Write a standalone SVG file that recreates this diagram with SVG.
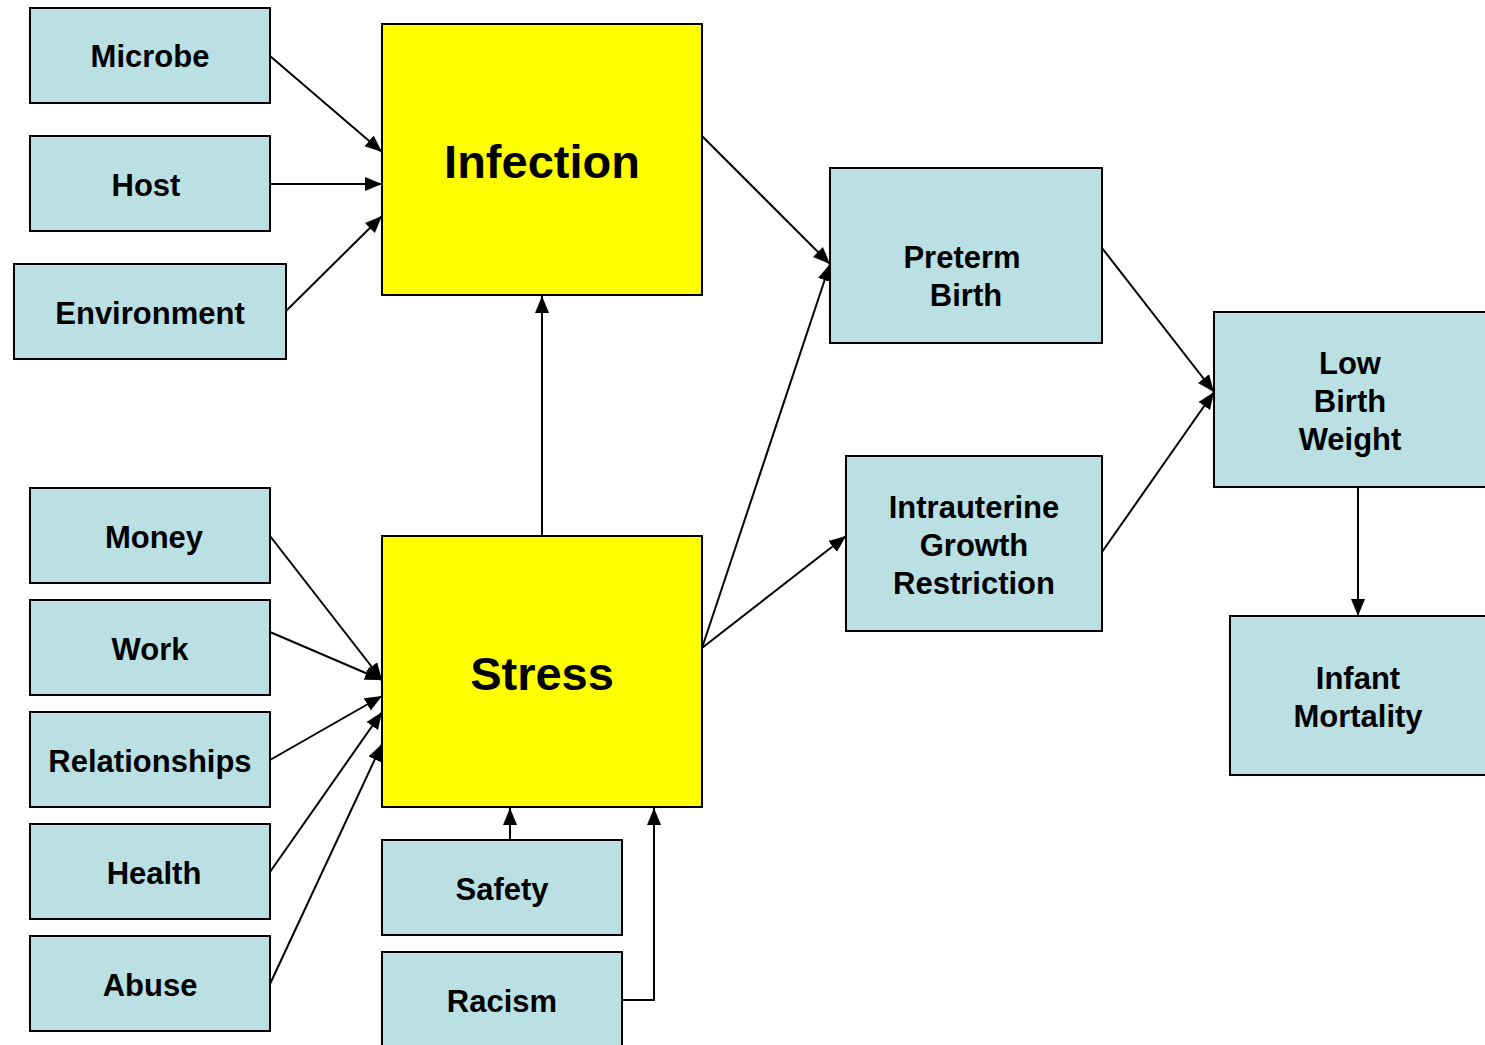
<svg xmlns="http://www.w3.org/2000/svg" width="1485" height="1045" viewBox="0 0 1485 1045">
<style>
.b{fill:#BBE0E3;stroke:#000;stroke-width:2}
.y{fill:#FFFF00;stroke:#000;stroke-width:2}
.t{font-family:"Liberation Sans",Arial,sans-serif;font-weight:bold;font-size:31px;text-anchor:middle;fill:#000}
.T{font-family:"Liberation Sans",Arial,sans-serif;font-weight:bold;font-size:47px;text-anchor:middle;fill:#000}
.c{fill:none;stroke:#000;stroke-width:2;marker-end:url(#a)}
</style>
<defs>
<marker id="a" markerUnits="userSpaceOnUse" markerWidth="18" markerHeight="16" refX="17" refY="8" orient="auto">
<path d="M0,1 L17,8 L0,15 Z" fill="#000"/>
</marker>
</defs>
<rect width="1485" height="1045" fill="#fff"/>
<g id="connectors">
<line class="c" x1="270" y1="56" x2="382" y2="152"/>
<line class="c" x1="270" y1="184" x2="382" y2="184"/>
<line class="c" x1="286" y1="311" x2="382" y2="216"/>
<line class="c" x1="542" y1="536" x2="542" y2="296"/>
<line class="c" x1="702" y1="136" x2="830" y2="264"/>
<line class="c" x1="702" y1="648" x2="830" y2="264"/>
<line class="c" x1="702" y1="648" x2="846" y2="536"/>
<line class="c" x1="1102" y1="248" x2="1214" y2="392"/>
<line class="c" x1="1102" y1="552" x2="1214" y2="392"/>
<line class="c" x1="1358" y1="488" x2="1358" y2="616"/>
<line class="c" x1="270" y1="536" x2="382" y2="680"/>
<line class="c" x1="270" y1="632" x2="382" y2="680"/>
<line class="c" x1="270" y1="760" x2="382" y2="696"/>
<line class="c" x1="270" y1="872" x2="382" y2="712"/>
<line class="c" x1="270" y1="984" x2="382" y2="744"/>
<line class="c" x1="510" y1="840" x2="510" y2="808"/>
<polyline class="c" points="622,1000 654,1000 654,808"/>
</g>
<g id="microbe"><rect class="b" x="30" y="8" width="240" height="95"/><text class="t" x="150" y="67">Microbe</text></g>
<g id="host"><rect class="b" x="30" y="136" width="240" height="95"/><text class="t" x="146" y="196">Host</text></g>
<g id="environment"><rect class="b" x="14" y="264" width="272" height="95"/><text class="t" x="150" y="324">Environment</text></g>
<g id="infection"><rect class="y" x="382" y="24" width="320" height="271"/><text class="T" x="542" y="178">Infection</text></g>
<g id="stress"><rect class="y" x="382" y="536" width="320" height="271"/><text class="T" x="542" y="690">Stress</text></g>
<g id="money"><rect class="b" x="30" y="488" width="240" height="95"/><text class="t" x="154" y="548">Money</text></g>
<g id="work"><rect class="b" x="30" y="600" width="240" height="95"/><text class="t" x="150" y="660">Work</text></g>
<g id="relationships"><rect class="b" x="30" y="712" width="240" height="95"/><text class="t" x="150" y="772">Relationships</text></g>
<g id="health"><rect class="b" x="30" y="824" width="240" height="95"/><text class="t" x="154" y="884">Health</text></g>
<g id="abuse"><rect class="b" x="30" y="936" width="240" height="95"/><text class="t" x="150" y="996">Abuse</text></g>
<g id="safety"><rect class="b" x="382" y="840" width="240" height="95"/><text class="t" x="502" y="900">Safety</text></g>
<g id="racism"><rect class="b" x="382" y="952" width="240" height="100"/><text class="t" x="502" y="1012">Racism</text></g>
<g id="preterm"><rect class="b" x="830" y="168" width="272" height="175"/><text class="t" x="962" y="268">Preterm</text><text class="t" x="966" y="306">Birth</text></g>
<g id="iugr"><rect class="b" x="846" y="456" width="256" height="175"/><text class="t" x="974" y="518">Intrauterine</text><text class="t" x="974" y="556">Growth</text><text class="t" x="974" y="594">Restriction</text></g>
<g id="lbw"><rect class="b" x="1214" y="312" width="280" height="175"/><text class="t" x="1350" y="374">Low</text><text class="t" x="1350" y="412">Birth</text><text class="t" x="1350" y="450">Weight</text></g>
<g id="infant"><rect class="b" x="1230" y="616" width="264" height="159"/><text class="t" x="1358" y="689">Infant</text><text class="t" x="1358" y="727">Mortality</text></g>
</svg>
